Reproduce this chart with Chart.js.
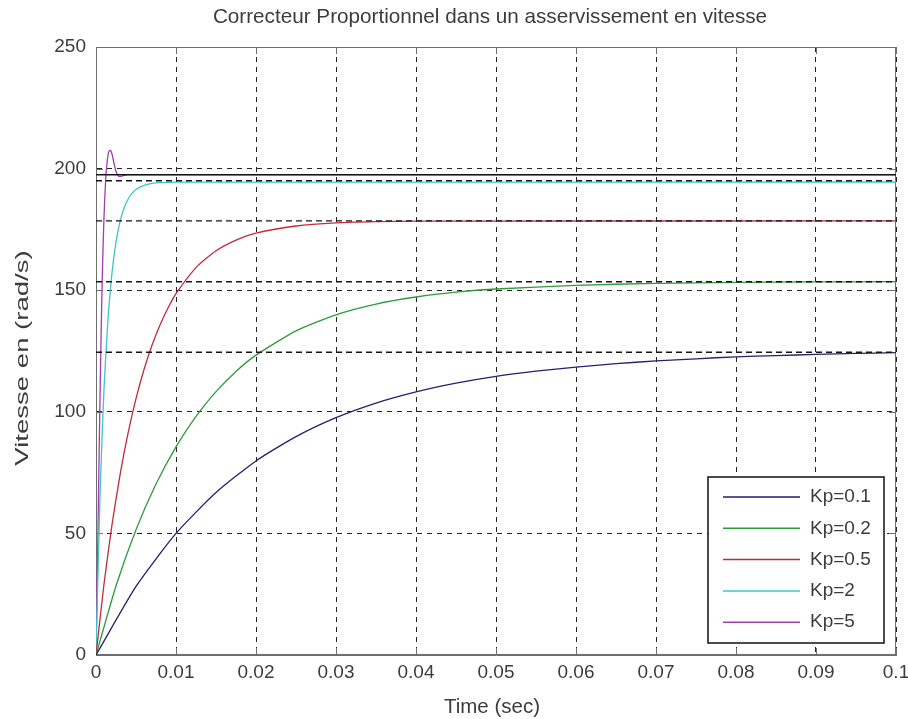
<!DOCTYPE html>
<html lang="fr">
<head>
<meta charset="utf-8">
<title>Correcteur Proportionnel</title>
<script src="https://cdn.jsdelivr.net/npm/chart.js@4.4.1/dist/chart.umd.min.js"></script>
<style>
  body { margin: 0; background: #fff; }
  canvas { display: block; }
</style>
</head>
<body>
<canvas id="grafico" width="908" height="719"></canvas>
<script>
// Données (temps en s, vitesse en rad/s)
const xTickLabels = ["0", "0.01", "0.02", "0.03", "0.04", "0.05", "0.06", "0.07", "0.08", "0.09", "0.1"];
const legendes = ["Kp=0.1", "Kp=0.2", "Kp=0.5", "Kp=2", "Kp=5"];

const tempsKp01 = [0, 0.005, 0.01, 0.015, 0.02, 0.025, 0.03, 0.035, 0.04, 0.045, 0.05, 0.055, 0.06, 0.065, 0.07, 0.075, 0.08, 0.085, 0.09, 0.095, 0.1];
const vitesseKp01 = [0, 28.2, 50.0, 66.8, 79.8, 89.8, 97.6, 103.6, 108.2, 111.8, 114.6, 116.7, 118.4, 119.8, 120.9, 121.8, 122.6, 123.1, 123.6, 124.0, 124.3];

const tempsKp02 = [0, 0.0025, 0.005, 0.0075, 0.01, 0.0125, 0.015, 0.0175, 0.02, 0.025, 0.03, 0.035, 0.04, 0.045, 0.05, 0.06, 0.07, 0.08, 0.09, 0.1];
const vitesseKp02 = [0, 28.4, 51.5, 70.3, 85.6, 98.1, 108.3, 116.6, 123.3, 133.3, 139.9, 144.3, 147.2, 149.2, 150.5, 152.0, 152.8, 153.2, 153.4, 153.5];

const tempsKp05 = [0, 0.001, 0.002, 0.003, 0.004, 0.005, 0.006, 0.007, 0.008, 0.009, 0.01, 0.0125, 0.015, 0.0175, 0.02, 0.025, 0.03, 0.035, 0.04, 0.1];
const vitesseKp05 = [0, 29.2, 53.6, 74.0, 91.1, 105.4, 117.4, 127.4, 135.7, 142.7, 148.6, 159.3, 166.2, 170.6, 173.5, 176.4, 177.7, 178.2, 178.4, 178.5];

const tempsKp2 = [0, 0.0005, 0.001, 0.0015, 0.002, 0.0025, 0.003, 0.0035, 0.004, 0.0045, 0.005, 0.006, 0.007, 0.008, 0.01, 0.1];
const vitesseKp2 = [0, 65.8, 109.4, 138.2, 157.2, 169.9, 178.2, 183.7, 187.4, 189.8, 191.4, 193.1, 193.9, 194.2, 194.4, 194.5];

const tempsKp5 = [0, 0.0002, 0.0004, 0.0006, 0.0008, 0.001, 0.0012, 0.0014, 0.0016, 0.0018, 0.002, 0.0022, 0.0024, 0.0026, 0.0028, 0.003, 0.0035, 0.004, 0.006, 0.1];
const vitesseKp5 = [0, 40, 85, 125, 158, 180, 195, 203, 207, 207.5, 206, 203, 200, 198, 197, 196.8, 197.2, 197.5, 197.5, 197.5];

// valeurs finales (traits horizontaux)
const niveauxFinaux = [124.5, 153.5, 178.5, 195, 197.5];

const temps = [tempsKp01, tempsKp02, tempsKp05, tempsKp2, tempsKp5];
const vitesses = [vitesseKp01, vitesseKp02, vitesseKp05, vitesseKp2, vitesseKp5];
const couleurs = ["#22226e", "#2f9a3c", "#c42a3a", "#3ec6c6", "#a03cb0"];

const POLICE = "'Liberation Sans', Arial, sans-serif";
const GRIS = "#3c3c3c";

function points(t, v) {
    return t.map((x, i) => ({ x: x, y: v[i] }));
}

const datasets = legendes.map((nom, i) => ({
    label: nom,
    data: points(temps[i], vitesses[i]),
    borderColor: couleurs[i],
    borderWidth: 1.3,
    pointRadius: 0,
    tension: 0.2
}));

niveauxFinaux.forEach((n, i) => {
    const dernier = i === niveauxFinaux.length - 1;
    datasets.push({
        label: "",
        data: [{ x: 0, y: n }, { x: 0.1, y: n }],
        borderColor: "#151515",
        borderWidth: 1.4,
        borderDash: dernier ? [] : [6, 4],
        pointRadius: 0,
        order: -1
    });
});

// Cadre, titres et légende dessinés à la main (style MATLAB)
const habillage = {
    id: "habillage",
    beforeDatasetsDraw(chart) {
        const { ctx, chartArea: a, scales } = chart;
        ctx.save();
        ctx.strokeStyle = "#6e6e6e";
        ctx.lineWidth = 1;
        ctx.strokeRect(a.left + 0.5, a.top + 0.5, a.right - a.left - 1, a.bottom - a.top - 1);
        // petites graduations vers l'intérieur
        ctx.beginPath();
        scales.x.ticks.forEach((t, i) => {
            const px = Math.round(scales.x.getPixelForTick(i)) + 0.5;
            ctx.moveTo(px, a.bottom); ctx.lineTo(px, a.bottom - 7);
            ctx.moveTo(px, a.top); ctx.lineTo(px, a.top + 7);
        });
        scales.y.ticks.forEach((t, i) => {
            const py = Math.round(scales.y.getPixelForTick(i)) + 0.5;
            ctx.moveTo(a.left, py); ctx.lineTo(a.left + 7, py);
            ctx.moveTo(a.right, py); ctx.lineTo(a.right - 7, py);
        });
        ctx.stroke();
        ctx.restore();
    },
    afterDraw(chart) {
        const { ctx, chartArea: a } = chart;
        const cx = (a.left + a.right) / 2;
        ctx.save();
        ctx.fillStyle = GRIS;
        ctx.textAlign = "center";
        ctx.textBaseline = "middle";
        ctx.font = "20.7px " + POLICE;
        ctx.fillText("Correcteur Proportionnel dans un asservissement en vitesse", cx - 6, 17);
        ctx.font = "20.5px " + POLICE;
        ctx.fillText("Time (sec)", cx - 4, 707);
        // titre vertical, étiré comme sur l'original
        ctx.translate(23, 358);
        ctx.rotate(-Math.PI / 2);
        ctx.scale(1.45, 1);
        ctx.font = "19px " + POLICE;
        ctx.fillText("Vitesse en (rad/s)", 0, 0);
        ctx.restore();

        // légende
        const bx = 708, by = 477, bw = 176, bh = 166;
        ctx.save();
        ctx.fillStyle = "#fff";
        ctx.fillRect(bx, by, bw, bh);
        ctx.strokeStyle = "#111";
        ctx.lineWidth = 1.5;
        ctx.strokeRect(bx, by, bw, bh);
        ctx.font = "19px " + POLICE;
        ctx.textAlign = "left";
        ctx.textBaseline = "middle";
        legendes.forEach((nom, i) => {
            const y = by + 20 + i * 31.3;
            ctx.strokeStyle = couleurs[i];
            ctx.lineWidth = 1.5;
            ctx.beginPath();
            ctx.moveTo(bx + 15, y);
            ctx.lineTo(bx + 92, y);
            ctx.stroke();
            ctx.fillStyle = GRIS;
            ctx.fillText(nom, bx + 102, y);
        });
        ctx.restore();
    }
};

new Chart(document.getElementById("grafico"), {
    type: "line",
    data: { datasets: datasets },
    options: {
        responsive: false,
        animation: false,
        layout: { padding: { top: 47, right: 12, left: 0, bottom: 0 } },
        plugins: { legend: { display: false }, tooltip: { enabled: false } },
        scales: {
            x: {
                type: "linear",
                min: 0,
                max: 0.1,
                afterFit: (s) => { s.height = 64; s.paddingLeft = 0; s.paddingRight = 0; },
                ticks: {
                    stepSize: 0.01,
                    padding: 6,
                    color: GRIS,
                    font: { family: POLICE, size: 19 },
                    maxRotation: 0,
                    callback: (v, i) => xTickLabels[i] ?? ""
                },
                grid: { color: "#222", lineWidth: 1, drawTicks: false },
                border: { display: true, color: "#6e6e6e", dash: [5, 5] }
            },
            y: {
                min: 0,
                max: 250,
                afterFit: (s) => { s.width = 96; s.paddingTop = 0; s.paddingBottom = 0; },
                ticks: {
                    stepSize: 50,
                    padding: 10,
                    color: GRIS,
                    font: { family: POLICE, size: 19 }
                },
                grid: { color: "#222", lineWidth: 1, drawTicks: false },
                border: { display: true, color: "#6e6e6e", dash: [5, 5] }
            }
        }
    },
    plugins: [habillage]
});
</script>
</body>
</html>
